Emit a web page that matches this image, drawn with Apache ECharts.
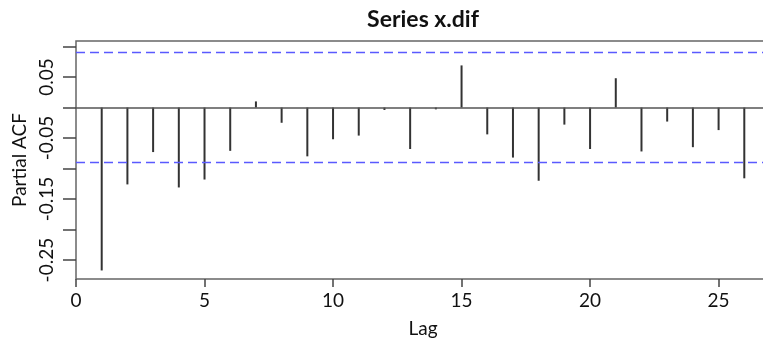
<!DOCTYPE html>
<html>
<head>
<meta charset="utf-8">
<script src="https://cdn.jsdelivr.net/npm/echarts@6/dist/echarts.min.js"></script>
<style>
  html, body { margin: 0; padding: 0; background: #fff; }
  #chart { width: 763px; height: 341px; }
</style>
</head>
<body>
<div id="chart"></div>
<script>
// partial autocorrelations, lags 1..26
const lags = [1, 2, 3, 4, 5, 6, 7, 8, 9, 10, 11, 12, 13, 14, 15, 16, 17, 18, 19, 20, 21, 22, 23, 24, 25, 26];
const pacfValues = [-0.267, -0.126, -0.073, -0.131, -0.118, -0.071, 0.010, -0.025, -0.080, -0.052,
  -0.046, -0.004, -0.068, -0.003, 0.069, -0.044, -0.082, -0.120, -0.028, -0.068,
  0.048, -0.072, -0.023, -0.065, -0.037, -0.116];
const ciBound = 0.094;
const xTicks = [0, 5, 10, 15, 20, 25];
const yTicks = [-0.25, -0.2, -0.15, -0.1, -0.05, 0, 0.05, 0.1];
const yLabels = [-0.25, -0.15, -0.05, 0.05];

const font = 'Lato';
const chart = echarts.init(document.getElementById('chart'));
chart.setOption({
  animation: false,
  title: {
    text: 'Series x.dif',
    left: 418,
    textAlign: 'center',
    top: 3,
    textStyle: { fontFamily: font, fontWeight: 'bold', fontSize: 23, color: '#111' }
  },
  // plot box runs past the right edge of the picture, as in the reference
  grid: {
    left: 76, top: 41, width: 694, height: 238,
    outerBoundsMode: 'none',
    show: true, borderColor: '#666', borderWidth: 1.5
  },
  xAxis: {
    type: 'value', min: 0, max: 27,
    name: 'Lag', nameLocation: 'middle', nameGap: 40,
    nameTextStyle: { fontFamily: font, fontSize: 19, color: '#111' },
    axisLine: { show: false, onZero: false },
    splitLine: { show: false },
    axisTick: { show: true, length: 8, customValues: xTicks, lineStyle: { color: '#444', width: 1.5 } },
    axisLabel: { customValues: xTicks, margin: 12, fontFamily: font, fontSize: 19, color: '#111' }
  },
  yAxis: {
    type: 'value', min: -0.281, max: 0.109,
    name: 'Partial ACF', nameLocation: 'middle', nameRotate: 90, nameGap: 34,
    nameTextStyle: { fontFamily: font, fontSize: 19, color: '#111' },
    axisLine: { show: false, onZero: false },
    splitLine: { show: false },
    axisTick: { show: true, length: 13, customValues: yTicks, lineStyle: { color: '#444', width: 1.5 } },
    axisLabel: {
      customValues: yLabels, rotate: 90, margin: 20,
      fontFamily: font, fontSize: 19, color: '#111',
      formatter: v => v.toFixed(2)
    }
  },
  series: [{
    // vertical spikes from 0 to each value (R type = "h")
    type: 'custom',
    data: lags.map((l, i) => [l, pacfValues[i]]),
    encode: { x: 0, y: 1 },
    renderItem: (params, api) => {
      const top = api.coord([api.value(0), api.value(1)]);
      const base = api.coord([api.value(0), 0]);
      return {
        type: 'line',
        shape: { x1: base[0], y1: base[1], x2: top[0], y2: top[1] },
        style: { stroke: '#333', lineWidth: 2 }
      };
    },
    markLine: {
      silent: true, symbol: 'none', label: { show: false },
      data: [
        { yAxis: 0, lineStyle: { color: '#555', width: 1.5, type: 'solid' } },
        { yAxis: ciBound, lineStyle: { color: '#5a5aff', width: 1.3, type: [9, 5] } },
        { yAxis: -ciBound, lineStyle: { color: '#5a5aff', width: 1.3, type: [9, 5] } }
      ]
    }
  }]
});
</script>
</body>
</html>
